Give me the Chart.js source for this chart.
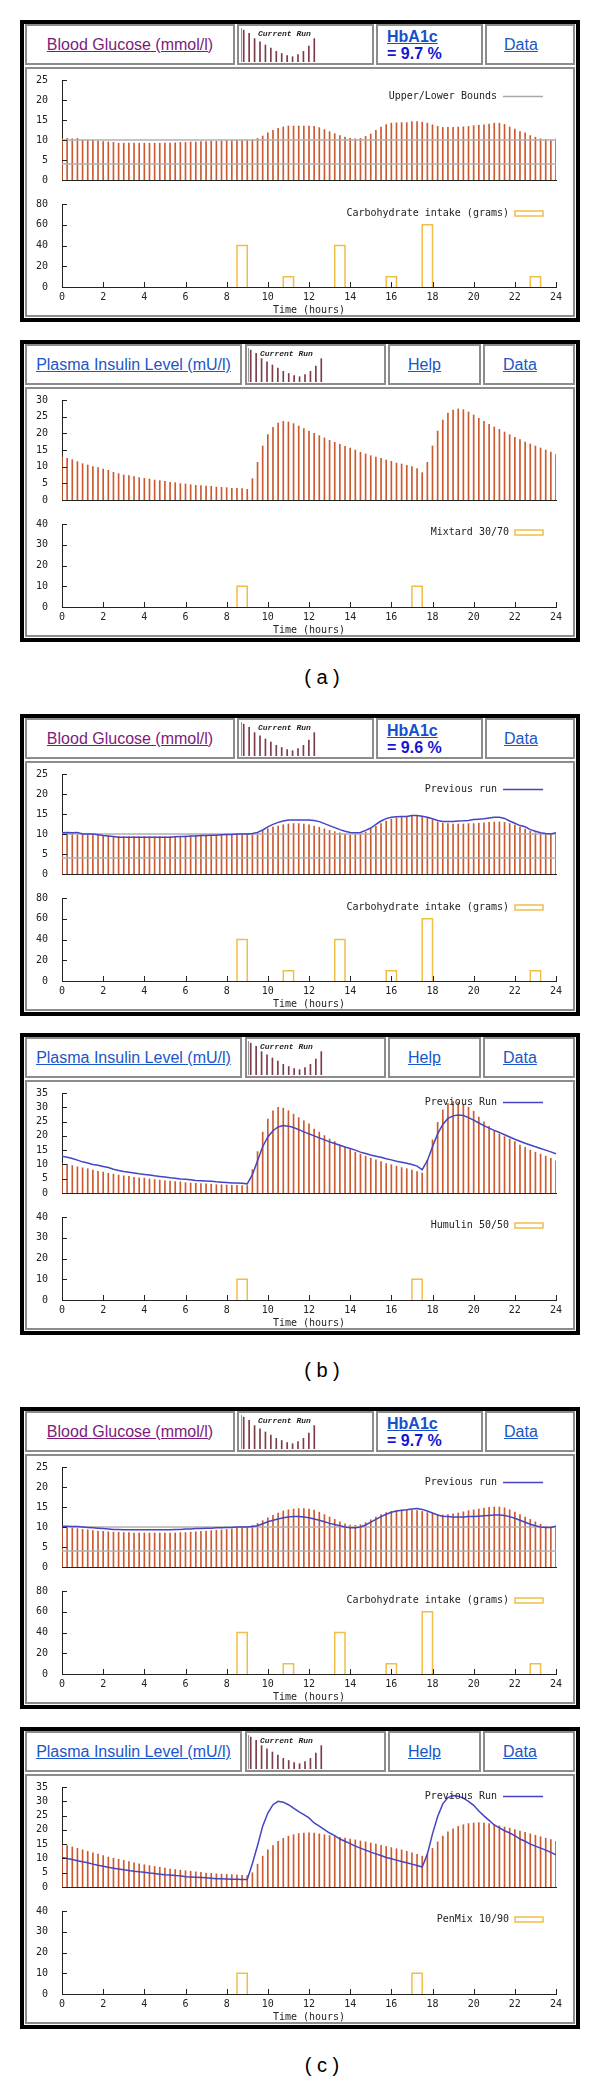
<!DOCTYPE html>
<html>
<head>
<meta charset="utf-8">
<title>Blood glucose / plasma insulin runs</title>
<script src="https://cdn.jsdelivr.net/npm/chart.js@4.4.1/dist/chart.umd.min.js"></script>
<style>
  body { margin: 0; width: 600px; height: 2081px; position: relative; background: #fff;
         font-family: "Liberation Sans", Arial, sans-serif; }
  .panel { position: absolute; left: 20px; width: 560px; height: 302px; box-sizing: border-box;
           border: 4px solid #000; background: #fff; }
  .cell { position: absolute; top: 0; height: 41px; box-sizing: border-box; border: 2px solid #8c8c8c; }
  .plotcell { position: absolute; left: 1px; top: 43px; width: 550px; height: 250px;
              box-sizing: border-box; border: 2px solid #8c8c8c; }
  .title { display: flex; align-items: center; justify-content: center; font-size: 16px; }
  .link { color: #1a56c9; text-decoration: underline; font-size: 16px; }
  .mid { display: flex; align-items: center; }
  .hba { padding: 2px 0 0 9px; line-height: 17px; font-size: 16px; font-weight: bold; }
  .icon-label { position: absolute; top: 5px; font: italic bold 8px "Liberation Mono", monospace;
                color: #222; white-space: nowrap; }
  canvas { position: absolute; }
  .fig { position: absolute; width: 100px; text-align: center; font-size: 20px; line-height: 24px; }
</style>
</head>
<body>
<script>
// blood glucose every quarter hour, mmol/l
const glucoseA = [
  10.3, 10.4, 10.3, 10.4, 10.0, 10.0, 10.0, 9.8,
  9.6, 9.5, 9.4, 9.2, 9.2, 9.2, 9.2, 9.2,
  9.2, 9.2, 9.2, 9.2, 9.2, 9.2, 9.3, 9.4,
  9.4, 9.5, 9.5, 9.6, 9.6, 9.7, 9.7, 9.8,
  9.9, 9.9, 10.0, 10.0, 10.0, 10.1, 10.4, 11.0,
  11.8, 12.4, 12.9, 13.25, 13.5, 13.5, 13.5, 13.5,
  13.5, 13.4, 13.1, 12.6, 12.1, 11.6, 11.1, 10.7,
  10.4, 10.3, 10.4, 10.9, 11.5, 12.4, 13.25, 13.85,
  14.2, 14.3, 14.35, 14.35, 14.6, 14.6, 14.45, 14.2,
  13.8, 13.4, 13.15, 13.15, 13.15, 13.25, 13.3, 13.4,
  13.6, 13.7, 13.8, 14.0, 14.2, 14.2, 13.9, 13.25,
  12.7, 12.1, 11.8, 11.1, 10.7, 10.3, 10.1, 10.0,
  10.3];
const glucoseB = [
  10.2, 10.2, 10.1, 10.1, 10.0, 9.9, 9.8, 9.7,
  9.6, 9.5, 9.4, 9.4, 9.3, 9.3, 9.3, 9.3,
  9.3, 9.3, 9.3, 9.3, 9.3, 9.3, 9.4, 9.4,
  9.5, 9.5, 9.6, 9.6, 9.7, 9.7, 9.8, 9.8,
  9.9, 9.9, 10.0, 10.0, 10.0, 10.1, 10.3, 10.8,
  11.3, 11.7, 12.0, 12.3, 12.5, 12.6, 12.6, 12.5,
  12.3, 12.0, 11.7, 11.3, 10.9, 10.6, 10.3, 10.0,
  9.8, 9.8, 10.0, 10.5, 11.2, 11.9, 12.6, 13.2,
  13.7, 14.0, 14.2, 14.3, 14.5, 14.6, 14.4, 14.0,
  13.5, 13.0, 12.7, 12.6, 12.5, 12.5, 12.5, 12.6,
  12.6, 12.7, 12.8, 12.9, 13.0, 13.0, 12.9, 12.6,
  12.2, 11.7, 11.2, 10.7, 10.3, 10.0, 9.9, 9.9,
  10.2];
const glucoseC = [
  10.0, 9.9, 9.8, 9.6, 9.4, 9.3, 9.1, 9.0,
  8.9, 8.8, 8.7, 8.7, 8.6, 8.6, 8.5, 8.5,
  8.5, 8.5, 8.5, 8.5, 8.5, 8.5, 8.5, 8.6,
  8.6, 8.7, 8.8, 8.9, 9.0, 9.1, 9.2, 9.3,
  9.4, 9.5, 9.7, 9.9, 10.1, 10.4, 10.9, 11.6,
  12.3, 12.9, 13.5, 14.0, 14.3, 14.5, 14.6, 14.6,
  14.5, 14.2, 13.7, 13.1, 12.5, 11.9, 11.3, 10.8,
  10.5, 10.4, 10.6, 11.1, 11.8, 12.5, 13.1, 13.6,
  13.9, 14.1, 14.2, 14.2, 14.2, 14.1, 13.9, 13.6,
  13.3, 13.1, 13.0, 13.1, 13.3, 13.5, 13.8, 14.1,
  14.3, 14.5, 14.7, 14.9, 15.0, 15.0, 14.8, 14.3,
  13.7, 13.1, 12.5, 11.9, 11.3, 10.7, 10.2, 10.0,
  10.2];

// plasma insulin every quarter hour, mU/l
const insulinA = [
  12.9, 12.5, 12.1, 11.5, 10.9, 10.5, 10.0, 9.7,
  9.3, 8.9, 8.3, 7.9, 7.5, 7.3, 7.0, 6.7,
  6.5, 6.3, 6.0, 5.8, 5.6, 5.3, 5.2, 4.9,
  4.8, 4.6, 4.4, 4.3, 4.2, 4.1, 3.9, 3.8,
  3.7, 3.5, 3.5, 3.4, 3.2, 6.4, 11.3, 16.2,
  19.6, 21.8, 23.1, 23.6, 23.4, 22.9, 22.2, 21.4,
  20.7, 20.0, 19.3, 18.6, 17.9, 17.3, 16.7, 16.1,
  15.6, 15.0, 14.3, 13.8, 13.3, 12.9, 12.5, 12.0,
  11.6, 11.1, 10.8, 10.4, 10.0, 9.4, 8.2, 11.3,
  16.2, 20.7, 24.0, 26.1, 27.0, 27.3, 27.1, 26.4,
  25.5, 24.5, 23.6, 22.7, 21.9, 21.2, 20.4, 19.6,
  18.8, 18.1, 17.4, 16.8, 16.2, 15.6, 15.0, 14.4,
  13.7];
const insulinB = [
  10.3, 10.0, 9.6, 9.2, 8.8, 8.5, 8.0, 7.6,
  7.3, 6.9, 6.6, 6.3, 6.0, 5.8, 5.5, 5.3,
  5.2, 4.9, 4.7, 4.5, 4.3, 4.2, 4.0, 3.9,
  3.6, 3.5, 3.4, 3.3, 3.2, 3.1, 2.9, 2.9,
  2.8, 2.7, 2.7, 2.6, 2.6, 8.2, 14.5, 21.3,
  25.9, 28.8, 30.0, 29.7, 28.8, 27.6, 26.4, 25.3,
  24.2, 22.4, 21.3, 20.1, 18.9, 18.0, 16.8, 16.0,
  15.2, 14.3, 13.6, 12.9, 12.2, 11.6, 11.0, 10.3,
  9.9, 9.4, 8.9, 8.5, 8.0, 7.5, 7.0, 11.5,
  18.6, 24.7, 29.1, 31.3, 32.0, 31.8, 31.1, 30.0,
  28.6, 26.6, 24.9, 23.3, 21.7, 20.7, 19.7, 18.9,
  18.0, 16.8, 16.0, 15.0, 14.3, 13.6, 12.9, 12.1,
  11.3];
const insulinC = [
  15.0, 14.5, 14.0, 13.5, 13.0, 12.5, 12.0, 11.5,
  11.0, 10.5, 10.1, 9.7, 9.3, 8.9, 8.5, 8.1,
  7.8, 7.5, 7.2, 6.9, 6.6, 6.3, 6.1, 5.9,
  5.7, 5.5, 5.3, 5.1, 4.9, 4.8, 4.6, 4.5,
  4.4, 4.3, 4.2, 4.1, 4.0, 5.0, 8.0, 10.8,
  13.0, 14.5, 16.0, 17.0, 17.8, 18.3, 18.7, 18.9,
  19.0, 18.9, 18.6, 18.3, 18.0, 17.7, 17.4, 17.1,
  16.8, 16.5, 16.1, 15.8, 15.4, 15.0, 14.6, 14.2,
  13.8, 13.4, 13.0, 12.5, 12.0, 11.4, 10.8, 11.5,
  13.5, 15.8, 17.8, 19.3, 20.4, 21.2, 21.8, 22.2,
  22.4, 22.5, 22.4, 22.2, 21.8, 21.4, 21.0, 20.6,
  20.1, 19.6, 19.1, 18.6, 18.1, 17.6, 17.1, 16.6,
  16.0];

// one sample per quarter hour
const hours = glucoseA.map((v, i) => i / 4);

// meals (hour from, hour to, grams of carbohydrate)
const mealStart = [8.5, 10.75, 13.25, 15.75, 17.5, 22.75];
const mealEnd = [9, 11.25, 13.75, 16.25, 18, 23.25];
const mealGrams = [40, 10, 40, 10, 60, 10];

// insulin injections (hour from, hour to, units)
const doseStart = [8.5, 17];
const doseEnd = [9, 17.5];
const doseUnits = [10, 10];

const insulinNames = ['Mixtard 30/70', 'Humulin 50/50', 'PenMix 10/90'];
const hba1c = ['= 9.7 %', '= 9.6 %', '= 9.7 %'];
const runLetters = ['a', 'b', 'c'];

const boundHours = [0, 24];
const upperBound = 10;
const lowerBound = 4;

// thumbnail in the header
const iconValues = [30, 27, 22, 19, 16, 13, 10, 8, 6, 5, 7, 10, 15, 22];

const monoFont = { family: '"DejaVu Sans Mono", monospace', size: 10 };

// gnuplot style: inward ticks and a key in the top right corner
const gnuplotLook = {
  id: 'gnuplotLook',
  afterDatasetsDraw(chart, args, opts) {
    const { ctx, chartArea: a, scales } = chart;
    ctx.save();
    ctx.strokeStyle = '#222';
    ctx.lineWidth = 1;
    ctx.beginPath();
    scales.y.ticks.forEach(t => {
      const py = Math.round(scales.y.getPixelForValue(t.value)) + 0.5;
      ctx.moveTo(a.left, py);
      ctx.lineTo(a.left + 5, py);
    });
    if (opts.xTicks) {
      scales.x.ticks.forEach(t => {
        const px = Math.round(scales.x.getPixelForValue(t.value)) + 0.5;
        ctx.moveTo(px, a.bottom);
        ctx.lineTo(px, a.bottom - 5);
      });
    }
    ctx.stroke();
    if (opts.key) {
      const ky = Math.round(a.top + opts.keyDy) + 0.5;
      const right = 519;
      const w = opts.keyBox ? 28 : 40;
      ctx.font = '10px "DejaVu Sans Mono", monospace';
      ctx.fillStyle = '#222';
      ctx.textAlign = 'right';
      ctx.textBaseline = 'middle';
      ctx.fillText(opts.key, right - w - 6, ky);
      ctx.strokeStyle = opts.keyColor;
      ctx.lineWidth = 1.5;
      if (opts.keyBox) {
        ctx.strokeRect(right - w, ky - 2.5, w, 5);
      } else {
        ctx.beginPath();
        ctx.moveTo(right - w, ky);
        ctx.lineTo(right, ky);
        ctx.stroke();
      }
    }
    ctx.restore();
  }
};

// tick padding is added to the chart padding by Chart.js, so the label gap
// comes from an (undrawn) tick length instead
function yAxis(max, step) {
  return {
    min: 0, max: max,
    ticks: { stepSize: step, font: monoFont, color: '#222', padding: 0, autoSkip: false },
    grid: { display: false, drawTicks: true, tickLength: 14 },
    border: { color: '#222' },
    afterFit: s => { s.width = 38; }
  };
}

function upperChart(canvas, cur, prev, max, bounds, key) {
  const datasets = [{
    type: 'bar',
    data: hours.map((h, i) => ({ x: h, y: cur[i] })),
    backgroundColor: '#cc5a30',
    barThickness: 1,
    order: 3
  }];
  if (bounds) {
    [upperBound, lowerBound].forEach(b => datasets.push({
      type: 'line',
      data: boundHours.map(h => ({ x: h, y: b })),
      borderColor: '#b0b0b0', borderWidth: 1.5, pointRadius: 0, order: 2
    }));
  }
  if (prev) {
    datasets.push({
      type: 'line',
      data: hours.map((h, i) => ({ x: h, y: prev[i] })),
      borderColor: '#4444c4', borderWidth: 1.5, pointRadius: 0, tension: 0, order: 1
    });
  }
  new Chart(canvas, {
    type: 'bar',
    data: { datasets: datasets },
    options: {
      animation: false, responsive: false, events: [],
      layout: { padding: { top: 12, bottom: 8, left: 0, right: 20 } },
      plugins: { legend: { display: false }, tooltip: { enabled: false }, gnuplotLook: key },
      scales: {
        x: {
          type: 'linear', min: 0, max: 24, offset: false,
          ticks: { display: false, stepSize: 2, padding: 0 },
          grid: { display: false, drawTicks: false },
          border: { color: '#222' },
          afterFit: s => { s.height = 0; }
        },
        y: yAxis(max, 5)
      }
    },
    plugins: [gnuplotLook]
  });
}

function lowerChart(canvas, starts, ends, vals, max, step, key) {
  const pts = [];
  starts.forEach((s, i) => {
    pts.push({ x: s, y: 0 }, { x: s, y: vals[i] }, { x: ends[i], y: vals[i] },
             { x: ends[i], y: 0 }, { x: ends[i], y: null });
  });
  new Chart(canvas, {
    type: 'line',
    data: { datasets: [{ data: pts, borderColor: '#f0be48', borderWidth: 1.5, pointRadius: 0, tension: 0 }] },
    options: {
      animation: false, responsive: false, events: [],
      layout: { padding: { top: 12, bottom: 0, left: 0, right: 20 } },
      plugins: { legend: { display: false }, tooltip: { enabled: false }, gnuplotLook: key },
      scales: {
        x: {
          type: 'linear', min: 0, max: 24,
          ticks: { stepSize: 2, font: monoFont, color: '#222', padding: 0, maxRotation: 0, autoSkip: false },
          grid: { display: false, drawTicks: true, tickLength: 4 },
          border: { color: '#222' },
          title: { display: true, text: 'Time (hours)', font: monoFont, color: '#222', padding: { top: 0, bottom: 2 } },
          afterFit: s => { s.height = 31; }
        },
        y: yAxis(max, step)
      }
    },
    plugins: [gnuplotLook]
  });
}

function iconChart(canvas) {
  new Chart(canvas, {
    type: 'bar',
    data: { labels: iconValues.map((v, i) => i), datasets: [{ data: iconValues, backgroundColor: '#7d3b45', barThickness: 1 }] },
    options: {
      animation: false, responsive: false, events: [],
      layout: { padding: 0 },
      plugins: { legend: { display: false }, tooltip: { enabled: false } },
      scales: {
        x: { ticks: { display: false, padding: 0 }, grid: { display: false, drawTicks: false }, border: { color: '#888' }, afterFit: s => { s.height = 0; } },
        y: { min: 0, max: 32, ticks: { display: false, padding: 0 }, grid: { display: false, drawTicks: false }, border: { color: '#999' }, afterFit: s => { s.width = 0; } }
      }
    }
  });
}

function el(parent, tag, cls, css, html) {
  const e = document.createElement(tag);
  if (cls) e.className = cls;
  if (css) e.style.cssText = css;
  if (html) e.innerHTML = html;
  parent.appendChild(e);
  return e;
}

function canvasAt(parent, left, top, w, h) {
  const c = el(parent, 'canvas', '', 'left:' + left + 'px;top:' + top + 'px;');
  c.width = w;
  c.height = h;
  return c;
}

function buildPanel(top, glucose) {
  const p = el(document.body, 'div', 'panel', 'top:' + top + 'px;');
  const cols = glucose ? [[1, 210], [213, 137], [352, 107], [461, 90]]
                       : [[1, 217], [221, 141], [364, 93], [459, 92]];
  const cells = cols.map(([l, w]) => el(p, 'div', 'cell', 'left:' + l + 'px;width:' + w + 'px;'));
  cells[0].classList.add('title');
  cells[0].innerHTML = glucose
    ? '<span style="color:#7d1a7d;text-decoration:underline">Blood Glucose (mmol/l)</span>'
    : '<span class="link">Plasma Insulin Level (mU/l)</span>';
  iconChart(canvasAt(p, glucose ? 217 : 224, 4, 76, 34));
  el(p, 'div', 'icon-label', 'left:' + (glucose ? 234 : 236) + 'px;', 'Current Run');
  cells[3].classList.add('mid');
  cells[3].style.paddingLeft = (glucose ? 17 : 18) + 'px';
  cells[3].innerHTML = '<span class="link">Data</span>';
  el(p, 'div', 'plotcell');
  return {
    panel: p,
    cells: cells,
    upper: canvasAt(p, 0, 44, 552, 120),
    lower: canvasAt(p, 0, 168, 552, 126)
  };
}

const glucoseRuns = [glucoseA, glucoseB, glucoseC];
const insulinRuns = [insulinA, insulinB, insulinC];
const glucoseTops = [20, 714, 1407];
const insulinTops = [340, 1033, 1727];
const labelTops = [665, 1358, 2053];

runLetters.forEach((letter, r) => {
  // blood glucose panel
  const g = buildPanel(glucoseTops[r], true);
  g.cells[2].classList.add('hba');
  g.cells[2].innerHTML = '<span class="link" style="color:#1550cc">HbA1c</span><br>' +
                         '<span style="color:#1414d4">' + hba1c[r] + '</span>';
  upperChart(g.upper, glucoseRuns[r], r > 0 ? glucoseRuns[r - 1] : null, 25, true,
    r === 0 ? { key: 'Upper/Lower Bounds', keyDy: 16, keyColor: '#a8a8a8' }
            : { key: 'Previous run', keyDy: 15, keyColor: '#4444c4' });
  lowerChart(g.lower, mealStart, mealEnd, mealGrams, 80, 20,
    { key: 'Carbohydrate intake (grams)', keyDy: 9, keyColor: '#f0be48', keyBox: true, xTicks: true });

  // plasma insulin panel
  const ins = buildPanel(insulinTops[r], false);
  ins.cells[2].classList.add('mid');
  ins.cells[2].style.paddingLeft = '18px';
  ins.cells[2].innerHTML = '<span class="link">Help</span>';
  upperChart(ins.upper, insulinRuns[r], r > 0 ? insulinRuns[r - 1] : null, r === 0 ? 30 : 35, false,
    r === 0 ? {} : { key: 'Previous Run', keyDy: 9, keyColor: '#4444c4' });
  lowerChart(ins.lower, doseStart, doseEnd, doseUnits, 40, 10,
    { key: insulinNames[r], keyDy: 8, keyColor: '#f0be48', keyBox: true, xTicks: true });

  el(document.body, 'div', 'fig', 'left:272px;top:' + labelTops[r] + 'px;', '( ' + letter + ' )');
});
</script>
</body>
</html>
